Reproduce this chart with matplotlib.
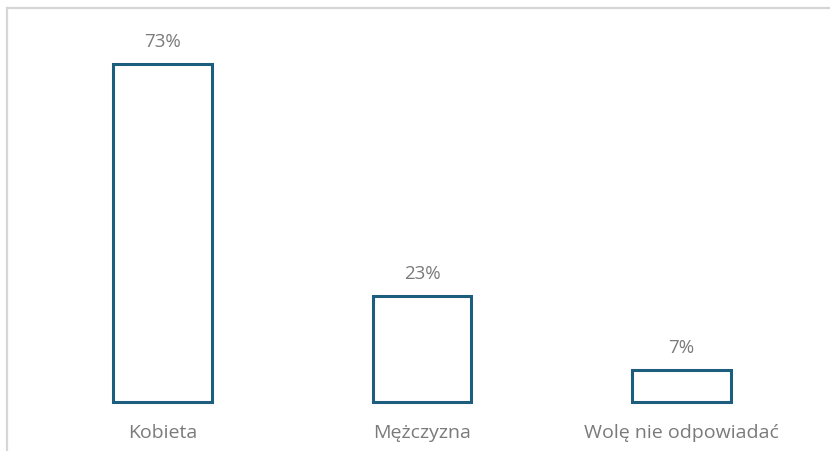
import matplotlib.pyplot as plt
from matplotlib.lines import Line2D

categories = ['Kobieta', 'Mężczyzna', 'Wolę nie odpowiadać']
values = [73, 23, 7]
labels = ['73%', '23%', '7%']

plt.rcParams['font.family'] = ['Open Sans', 'DejaVu Sans']

fig = plt.figure(figsize=(8.3, 4.52), dpi=100)
ax = fig.add_axes([0.0395, 0.1084, 0.938, 0.8186])

bar_color = '#1d5d7e'
text_color = '#7a7a7a'

x = range(len(categories))
bars = ax.bar(x, values, width=0.38, facecolor='white', edgecolor=bar_color,
              linewidth=2.2, clip_on=False)

for rect, lab in zip(bars, labels):
    ax.annotate(lab, (rect.get_x() + rect.get_width() / 2, rect.get_height()),
                xytext=(0, 10), textcoords='offset points', ha='center',
                va='bottom', fontsize=13.5, color=text_color)

ax.set_xlim(-0.5, 2.5)
ax.set_ylim(0, 80)
ax.set_xticks(list(x))
ax.set_xticklabels(categories, fontsize=14, color=text_color)
ax.tick_params(axis='x', length=0, pad=15)
ax.set_yticks([])
for s in ax.spines.values():
    s.set_visible(False)

# outer chart frame (top and left edge visible in the crop)
fig.add_artist(Line2D([0.009, 1.0], [0.979, 0.979], color='#d6d6d6', lw=1.6,
                      transform=fig.transFigure))
fig.add_artist(Line2D([0.009, 0.009], [0.0, 0.979], color='#d6d6d6', lw=1.6,
                      transform=fig.transFigure))

fig.savefig('out.png', dpi=100)
